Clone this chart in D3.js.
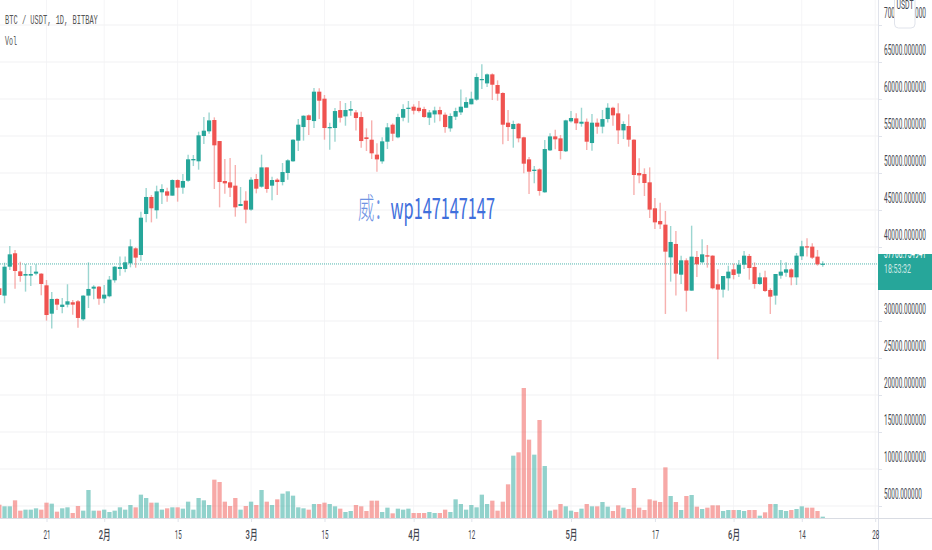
<!DOCTYPE html>
<html>
<head>
<meta charset="utf-8">
<script src="https://cdn.jsdelivr.net/npm/d3@7"></script>
<style>
html,body{margin:0;padding:0;background:#fff;overflow:hidden}
svg{display:block}
</style>
</head>
<body>
<svg id="chart" width="932" height="550"></svg>
<script>
const opens=[34420,33430,37340,39150,36710,36130,36130,36400,36400,34820,30990,32980,31900,32210,32530,32660,30230,33430,34370,34640,33020,33340,35500,37030,37030,37790,39820,38920,44460,46760,44960,47390,47520,46940,49050,48020,48960,51710,51580,55000,55630,57160,54320,48920,48740,48290,45540,46260,45050,49190,48150,50760,48290,49100,48780,50000,51580,54370,56210,57790,57020,60990,60040,56080,56080,58510,57650,58420,58190,57560,54820,54500,52480,51570,54230,56530,54820,57470,58690,58960,58820,58640,57470,57920,58510,57880,56030,57610,58190,58820,59280,59910,62560,62110,63330,61890,60810,56800,55940,56660,54820,51840,50270,50490,47390,53060,54950,54680,52930,56980,57380,56660,56930,54050,56800,56260,57290,58820,58060,55760,56350,54500,50000,49860,48740,45230,43510,43020,38600,40410,36260,38200,34100,38650,37930,38880,38830,34960,34240,35770,36980,36400,37610,38790,37300,35000,35900,34190,33430,36130,36530,36980,35900,38740,40090,40050,38700,37660];
const closes=[33520,37340,39010,36760,36080,36350,36350,36670,35000,30810,32980,32210,32210,32660,32210,30410,33430,34330,34640,33020,33560,35590,37340,37300,37930,40090,38560,43960,46760,45230,47520,47840,46940,49050,48020,48920,51850,51890,55090,55720,57110,53740,48780,48600,48020,45360,45810,45050,49100,47880,50760,47840,49050,48780,50130,51710,54500,56530,57740,57160,60990,59770,56080,56210,58370,57470,58510,58640,57430,54320,54590,52660,51840,54280,56170,55310,57560,58640,58820,58420,58370,57560,58190,58460,57920,56210,57700,58370,58960,59590,60040,62970,62700,63330,61930,60720,56530,56210,56620,54680,51260,50180,50450,47570,53240,54950,54550,52970,57110,57430,56710,56930,54230,56800,56260,57290,58820,57790,55760,56620,54500,49730,49680,48650,45050,43330,43060,39370,40680,36400,38200,34100,38700,37660,39010,38700,34420,34240,36080,36670,36220,37610,38830,37160,35000,35900,34060,33290,36350,36670,36980,35900,38830,40090,39960,38560,37660,37750];
const highs=[34640,37880,40140,39600,38020,37700,37430,37660,36440,35540,33920,33070,33110,34960,32840,32840,33470,37930,34820,34730,34870,36080,37430,38700,38700,41040,39960,44780,47970,47030,48290,48470,48020,49140,49140,49860,52480,52430,55580,57560,58190,57520,54320,51890,52030,51080,48110,47520,49410,49860,52480,50760,49500,49280,51350,51850,54550,57290,57790,57920,61480,61440,60540,56800,58780,59730,59460,59730,58510,58280,56030,57110,54010,54820,56750,56710,58010,59280,59730,59280,59730,58960,58510,58960,58960,58190,58060,58820,61300,60220,60990,63460,64680,63460,63460,62520,60900,58510,57070,56750,54910,52160,50940,50630,54460,55360,55850,55130,57200,58370,58060,58820,57380,57970,57380,58510,59410,58960,59410,56980,57920,54550,51980,50630,50760,46620,45990,44870,42840,42160,38830,38470,42880,39460,41040,40270,38880,36980,36080,37480,37750,38240,39460,39060,37930,36530,36800,34420,36350,38240,37930,37120,39190,40860,41170,40500,39600,38060];
const lows=[32600,32390,36890,34370,35320,33970,34730,36170,33470,30050,28970,31490,31040,31850,30860,29100,30050,31760,32930,32210,32390,33200,35180,36130,36580,37250,37200,38110,43330,43330,43830,45810,46130,46940,46130,47210,48830,50940,50450,53920,55310,47840,45360,47210,46760,44100,45540,43200,44910,47250,48020,47340,46310,47030,48330,49100,51530,52970,54370,55130,56080,57290,54500,53150,54230,56840,56390,57740,55760,53420,52970,51890,50180,51260,53240,54320,54680,56980,56800,57920,58190,57470,56480,56800,56980,55450,55580,57160,57830,58820,59280,59770,61350,61620,59860,59770,53870,54320,53420,54140,49950,47160,48600,46940,47340,52970,53200,51840,52840,56840,55810,56260,53110,53020,55310,55360,56840,56390,53920,54590,53560,47030,48600,46890,43920,42430,42430,30950,35320,33430,35000,31270,34100,35950,37790,37210,34280,24830,33160,34100,35630,35950,37030,35590,34370,34870,33920,30950,32210,35720,35990,34820,34870,38250,38700,38380,37480,37340];
const volumes=[40,35,35,53,22,25,25,29,25,46,43,19,29,32,15,36,22,84,22,22,25,18,22,32,25,39,32,70,60,46,46,25,29,32,32,28,49,25,60,53,39,115,108,49,36,60,25,36,49,39,84,49,39,56,73,80,67,32,29,25,42,42,46,42,35,28,18,21,39,35,21,52,52,18,31,14,28,25,28,15,15,15,18,15,15,25,18,56,42,25,39,32,70,42,52,22,49,101,187,197,390,235,190,294,156,22,25,42,35,22,18,28,42,35,35,48,34,21,38,31,27,90,31,24,56,52,48,152,66,48,24,66,69,34,27,31,38,38,21,24,24,24,21,24,24,7,17,42,42,24,21,24,27,35,31,31,21,4];
const priceTicks=[70000,65000,60000,55000,50000,45000,40000,35000,30000,25000,20000,15000,10000,5000];
const hiddenPriceLabel=35000;
const tickDays=[9,20,34,48,62,79,90,109,125,140,153,167];
const tickLabels=["21","2月","15","3月","15","4月","12","5月","17","6月","14","28"];
const lastPrice=37708.754941;
const countdown="18:53:32";
const titleText="BTC / USDT, 1D, BITBAY";
const volText="Vol";
const watermarkHan="威：";
const watermarkLatin="wp147147147";
const currency="USDT";

const UP="#26a69a",DOWN="#ef5350",GRID_H="#f1f1f3",GRID_V="#f5f5f7",EDGE="#e0e3eb",TXT="#43464f";
const svg=d3.select("#chart");
const axisX=878,baseY=518;
const x=d3.scaleLinear().domain([0,167]).range([-0.7,875.2]);
const y=d3.scaleLinear().domain([40000,65000]).range([247,62]);
const v=d3.scaleLinear().domain([0,390]).range([baseY,388]);
const fontAxis="Roboto, 'Noto Sans CJK SC', sans-serif";
const n=opens.length, idx=d3.range(n);

// narrows a text horizontally to a target width (the reference type is condensed)
function squeeze(sel,width){
  sel.each(function(d,i){
    const natural=this.getComputedTextLength();
    const target=typeof width==="function"?width(d,i):width;
    const x0=+this.getAttribute("x")||0;
    this.setAttribute("x",0);
    this.setAttribute("transform",`translate(${x0},0) scale(${target/natural},1)`);
  });
}

// grid
svg.append("g").selectAll("line").data(tickDays).join("line")
  .attr("x1",d=>x(d)).attr("x2",d=>x(d)).attr("y1",0).attr("y2",baseY)
  .attr("stroke",GRID_V).attr("stroke-width",1);
svg.append("g").selectAll("line").data(priceTicks).join("line")
  .attr("x1",0).attr("x2",axisX).attr("y1",d=>y(d)).attr("y2",d=>y(d))
  .attr("stroke",GRID_H).attr("stroke-width",1.2);

// volume
svg.append("g").selectAll("rect").data(idx).join("rect")
  .attr("x",i=>x(i)-2.15).attr("width",4.3)
  .attr("y",i=>v(volumes[i])).attr("height",i=>baseY-v(volumes[i]))
  .attr("fill",i=>closes[i]>=opens[i]?UP:DOWN).attr("opacity",.5);

// last price line
svg.append("line").attr("x1",0).attr("x2",axisX).attr("y1",y(lastPrice)).attr("y2",y(lastPrice))
  .attr("stroke",UP).attr("stroke-width",1).attr("stroke-dasharray","1 1").attr("opacity",.8);

// candles
const color=i=>closes[i]>=opens[i]?UP:DOWN;
svg.append("g").selectAll("line").data(idx).join("line")
  .attr("x1",i=>x(i)).attr("x2",i=>x(i)).attr("y1",i=>y(highs[i])).attr("y2",i=>y(lows[i]))
  .attr("stroke",color).attr("stroke-width",1.4).attr("opacity",.45);
svg.append("g").selectAll("rect").data(idx).join("rect")
  .attr("x",i=>x(i)-2.1).attr("width",4.2)
  .attr("y",i=>y(Math.max(opens[i],closes[i])))
  .attr("height",i=>Math.max(1.2,Math.abs(y(opens[i])-y(closes[i]))))
  .attr("fill",color);

// axes
const rightAxis=d3.axisRight(y).tickValues(priceTicks).tickSize(4).tickPadding(2)
  .tickFormat(d=>d===hiddenPriceLabel?"":d.toFixed(6));
const gr=svg.append("g").attr("transform",`translate(${axisX},0)`).call(rightAxis);
gr.select(".domain").attr("stroke",EDGE).attr("d",`M0.5,0V550`);
gr.selectAll(".tick line").attr("stroke",EDGE);
gr.selectAll(".tick text").filter(d=>d===hiddenPriceLabel).remove();
gr.selectAll(".tick text").attr("font-family",fontAxis).attr("font-size",14).attr("fill",TXT)
  .attr("x",6).attr("y",-12).attr("dy","0.32em")
  .call(squeeze,d=>d>=10000?42:38);

const bottomAxis=d3.axisBottom(x).tickValues(tickDays).tickSize(4).tickPadding(8)
  .tickFormat((d,i)=>tickLabels[i]);
const gb=svg.append("g").attr("transform",`translate(0,${baseY})`).call(bottomAxis);
gb.select(".domain").attr("stroke","#d9dce3").attr("d",`M0,0.5H932`);
gb.selectAll(".tick line").attr("stroke",EDGE);
gb.selectAll(".tick text").attr("font-family",fontAxis).attr("font-size",13).attr("fill",TXT)
  .attr("font-weight",(d,i)=>tickLabels[i].includes("月")?500:400)
  .call(squeeze,(d,i)=>tickLabels[i].includes("月")?12:7);

// last price tag
const defs=svg.append("defs");
defs.append("clipPath").attr("id","tagClip").append("rect").attr("x",878).attr("y",254).attr("width",54).attr("height",36);
svg.append("rect").attr("x",878).attr("y",254).attr("width",54).attr("height",36).attr("fill",UP);
const tag=svg.append("g").attr("clip-path","url(#tagClip)");
tag.append("text").attr("x",884).attr("y",258).attr("font-family",fontAxis).attr("font-size",14).attr("fill","#fff")
  .text(lastPrice.toFixed(6)).call(squeeze,42);
tag.append("text").attr("x",884).attr("y",273).attr("font-family",fontAxis).attr("font-size",13).attr("fill","#fff").attr("opacity",.75)
  .text(countdown).call(squeeze,27);

// currency tag
svg.append("path").attr("d","M894.5,-2V24a4,4 0 0 0 4,4H911a4,4 0 0 0 4,-4V-2Z").attr("fill","#fff").attr("stroke",EDGE);
svg.append("text").attr("x",905).attr("y",9).attr("text-anchor","middle").attr("font-family",fontAxis).attr("font-size",13).attr("fill",TXT)
  .text(currency).call(squeeze,17);

// legend
svg.append("text").attr("x",5).attr("y",24).attr("font-family","'Liberation Mono',monospace").attr("font-size",13).attr("fill","#555")
  .text(titleText).call(squeeze,93);
svg.append("text").attr("x",5).attr("y",45).attr("font-family","'Liberation Mono',monospace").attr("font-size",13).attr("fill","#555")
  .text(volText).call(squeeze,12);

// watermark
const wm=svg.append("text").attr("x",358).attr("y",219).attr("font-family","'Noto Sans CJK SC',sans-serif").attr("font-size",29);
wm.append("tspan").attr("font-weight",300).attr("fill","#6f93e3").text(watermarkHan);
wm.append("tspan").attr("font-weight",400).attr("fill","#3f6fdc").text(watermarkLatin);
wm.call(squeeze,137);
</script>
</body>
</html>
